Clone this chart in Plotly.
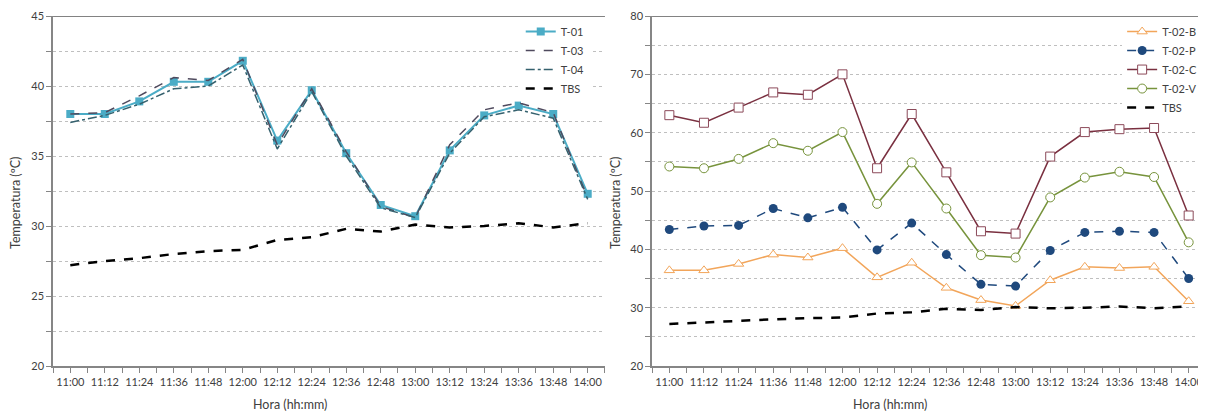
import plotly.graph_objects as go

hours = ["11:00", "11:12", "11:24", "11:36", "11:48", "12:00", "12:12", "12:24",
         "12:36", "12:48", "13:00", "13:12", "13:24", "13:36", "13:48", "14:00"]
idx = list(range(len(hours)))

t01 = [38.0, 38.0, 38.9, 40.3, 40.3, 41.8, 36.1, 39.7, 35.2, 31.5, 30.7, 35.4, 37.9, 38.6, 38.0, 32.3]
t03 = [38.0, 38.1, 39.3, 40.6, 40.4, 41.9, 35.8, 39.8, 35.3, 31.4, 30.6, 35.8, 38.3, 38.8, 38.1, 32.0]
t04 = [37.4, 37.9, 38.7, 39.8, 40.0, 41.5, 35.5, 39.6, 35.0, 31.3, 30.6, 35.2, 37.8, 38.3, 37.7, 31.9]
tbs = [27.2, 27.5, 27.7, 28.0, 28.2, 28.3, 29.0, 29.2, 29.8, 29.6, 30.1, 29.9, 30.0, 30.2, 29.9, 30.2]

t02b = [36.4, 36.4, 37.5, 39.1, 38.6, 40.2, 35.2, 37.7, 33.4, 31.3, 30.3, 34.7, 37.0, 36.8, 37.0, 31.1]
t02p = [43.4, 44.0, 44.1, 47.0, 45.4, 47.2, 39.9, 44.5, 39.1, 34.0, 33.7, 39.8, 42.9, 43.1, 42.9, 35.0]
t02c = [63.0, 61.7, 64.3, 66.9, 66.5, 70.0, 53.9, 63.2, 53.2, 43.1, 42.7, 55.9, 60.1, 60.6, 60.8, 45.8]
t02v = [54.2, 53.9, 55.5, 58.2, 56.9, 60.1, 47.8, 54.9, 47.0, 39.0, 38.6, 48.9, 52.3, 53.3, 52.4, 41.2]

x_title = "Hora (hh:mm)"
y_title = "Temperatura (ºC)"

FONT = "Lato"
TXT = "#404040"
fig = go.Figure()

# Left chart
fig.add_trace(go.Scatter(x=idx, y=t01, name="T-01", mode="lines+markers", xaxis="x", yaxis="y",
                         line=dict(color="#4BACC6", width=2), marker=dict(symbol="square", size=8, color="#4BACC6"),
                         legend="legend"))
fig.add_trace(go.Scatter(x=idx, y=t03, name="T-03", mode="lines", xaxis="x", yaxis="y",
                         line=dict(color="#4F4A5E", width=1.5, dash="dash"), legend="legend"))
fig.add_trace(go.Scatter(x=idx, y=t04, name="T-04", mode="lines", xaxis="x", yaxis="y",
                         line=dict(color="#35616E", width=1.5, dash="dashdot"), legend="legend"))
fig.add_trace(go.Scatter(x=idx, y=tbs, name="TBS", mode="lines", xaxis="x", yaxis="y",
                         line=dict(color="#000000", width=2.5, dash="dash"), legend="legend"))

# Right chart
fig.add_trace(go.Scatter(x=idx, y=t02b, name="T-02-B", mode="lines+markers", xaxis="x2", yaxis="y2",
                         line=dict(color="#F2A55A", width=1.5),
                         marker=dict(symbol="triangle-up", size=9, color="white", line=dict(color="#F2A55A", width=1)),
                         legend="legend2"))
fig.add_trace(go.Scatter(x=idx, y=t02p, name="T-02-P", mode="lines+markers", xaxis="x2", yaxis="y2",
                         line=dict(color="#1F497D", width=1.5, dash="dash"),
                         marker=dict(symbol="circle", size=9, color="#1F497D"),
                         legend="legend2"))
fig.add_trace(go.Scatter(x=idx, y=t02c, name="T-02-C", mode="lines+markers", xaxis="x2", yaxis="y2",
                         line=dict(color="#7A3040", width=1.5),
                         marker=dict(symbol="square", size=9, color="white", line=dict(color="#8C4A5A", width=1)),
                         legend="legend2"))
fig.add_trace(go.Scatter(x=idx, y=t02v, name="T-02-V", mode="lines+markers", xaxis="x2", yaxis="y2",
                         line=dict(color="#77933C", width=1.5),
                         marker=dict(symbol="circle", size=9, color="white", line=dict(color="#77933C", width=1)),
                         legend="legend2"))
fig.add_trace(go.Scatter(x=idx, y=tbs, name="TBS", mode="lines", xaxis="x2", yaxis="y2",
                         line=dict(color="#000000", width=2.5, dash="dash"), legend="legend2"))

xcommon = dict(range=[-0.5, 15.5], tickmode="array", tickvals=idx, ticktext=hours,
               showline=True, linecolor="#868686", linewidth=1.5, ticks="outside", ticklen=5,
               tickcolor="#868686", showgrid=False, zeroline=False,
               tickfont=dict(family=FONT, size=11, color=TXT),
               minor=dict(dtick=0.5, tick0=-0.5, ticks="outside", ticklen=5, tickcolor="#868686", showgrid=False))
ycommon = dict(showline=True, linecolor="#868686", linewidth=1.5, ticks="outside", ticklen=5,
               tickcolor="#868686", showgrid=True, gridcolor="#BFBFBF", griddash="dot", gridwidth=1,
               zeroline=False, tickfont=dict(family=FONT, size=11, color=TXT))

W, H = 1198, 404
fig.update_layout(
    width=W, height=H,
    margin=dict(l=0, r=0, t=8, b=46),
    paper_bgcolor="white", plot_bgcolor="white",
    showlegend=True,
    xaxis=dict(domain=[0.0376, 0.4983], anchor="y", **xcommon),
    yaxis=dict(domain=[0, 1], anchor="x", range=[20, 45], dtick=5,
               minor=dict(dtick=2.5, showgrid=True, gridcolor="#BFBFBF", griddash="dot", ticks="outside",
                          ticklen=5, tickcolor="#868686"), **ycommon),
    xaxis2=dict(domain=[0.5376, 1.0], anchor="y2", **xcommon),
    yaxis2=dict(domain=[0, 1], anchor="x2", range=[20, 80], dtick=10,
                minor=dict(dtick=5, showgrid=True, gridcolor="#BFBFBF", griddash="dot", ticks="outside",
                           ticklen=5, tickcolor="#868686"), **ycommon),
    legend=dict(x=0.428, y=0.997, xanchor="left", yanchor="top", bgcolor="white",
                font=dict(family=FONT, size=11, color=TXT), tracegroupgap=0),
    legend2=dict(x=0.93, y=0.997, xanchor="left", yanchor="top", bgcolor="white",
                 font=dict(family=FONT, size=11, color=TXT), tracegroupgap=0),
    shapes=[
        dict(type="line", xref="x domain", yref="y", x0=0, x1=1, y0=45, y1=45,
             line=dict(color="#595959", width=1.5)),
        dict(type="line", xref="x2 domain", yref="y2", x0=0, x1=1, y0=80, y1=80,
             line=dict(color="#595959", width=1.5)),
    ],
    annotations=[
        dict(text=x_title, xref="paper", yref="paper", x=0.2354, y=-0.111, showarrow=False,
             xanchor="center", yanchor="middle", font=dict(family=FONT, size=12.5, color=TXT)),
        dict(text=x_title, xref="paper", yref="paper", x=0.7362, y=-0.111, showarrow=False,
             xanchor="center", yanchor="middle", font=dict(family=FONT, size=12.5, color=TXT)),
        dict(text=y_title, xref="paper", yref="paper", x=0.0067, y=0.466, showarrow=False, textangle=-90,
             xanchor="center", yanchor="middle", font=dict(family=FONT, size=12.5, color=TXT)),
        dict(text=y_title, xref="paper", yref="paper", x=0.5075, y=0.466, showarrow=False, textangle=-90,
             xanchor="center", yanchor="middle", font=dict(family=FONT, size=12.5, color=TXT)),
    ],
)

fig.write_html("out.html")
